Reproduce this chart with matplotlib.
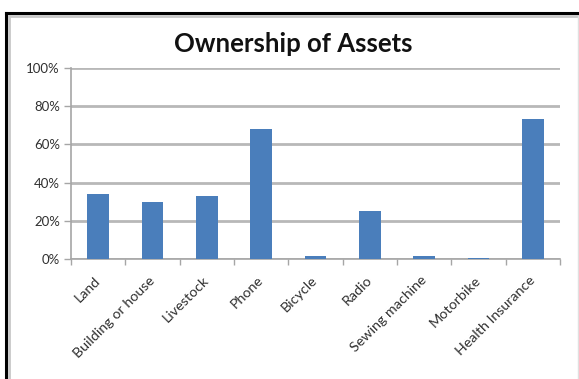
import matplotlib
matplotlib.use("Agg")
import matplotlib.pyplot as plt
from matplotlib.lines import Line2D
from matplotlib.ticker import PercentFormatter, MultipleLocator
from matplotlib.transforms import ScaledTranslation

categories = ["Land", "Building or house", "Livestock", "Phone", "Bicycle",
              "Radio", "Sewing machine", "Motorbike", "Health Insurance"]
ownership = [34.0, 29.7, 33.2, 67.9, 1.5, 25.3, 1.5, 0.6, 73.1]

W, H = 579, 379
fig = plt.figure(figsize=(W / 100, H / 100), dpi=100)
fig.patch.set_facecolor("white")

ax = fig.add_axes([71 / W, (H - 259) / H, (560 - 71) / W, (259 - 68) / H])
x = list(range(len(categories)))
ax.bar(x, ownership, width=0.4, color="#4a7ebb", zorder=3)

ax.set_xlim(-0.5, len(categories) - 0.5)
ax.set_ylim(0, 100)
ax.yaxis.set_major_locator(MultipleLocator(20))
ax.yaxis.set_major_formatter(PercentFormatter(decimals=0))
ax.grid(axis="y", color="#b8b8b8", linewidth=2.0, zorder=0)

for side in ("top", "right"):
    ax.spines[side].set_visible(False)
for side in ("left", "bottom"):
    ax.spines[side].set_color("#a6a6a6")
    ax.spines[side].set_linewidth(1.2)

# Category boundaries carry the tick marks, centres carry the labels
ax.set_xticks([i - 0.5 for i in range(len(categories) + 1)], minor=False)
ax.set_xticklabels([])
ax.set_xticks(x, minor=True)
ax.set_xticklabels(categories, minor=True, rotation=45, ha="right", va="center",
                   rotation_mode="anchor", fontsize=10.3, color="#303030",
                   family="Lato")
shift = ScaledTranslation(6 / 100, 0, fig.dpi_scale_trans)
for lbl in ax.get_xticklabels(minor=True):
    lbl.set_transform(lbl.get_transform() + shift)
ax.tick_params(axis="x", which="major", length=4, color="#a6a6a6", width=1)
ax.tick_params(axis="x", which="minor", length=0, pad=14)
ax.tick_params(axis="y", length=5, color="#a6a6a6", width=1, pad=3,
               labelsize=9.5, labelcolor="#303030")
for lbl in ax.get_yticklabels():
    lbl.set_family("Lato")

fig.text(293 / W, 1 - 44 / H, "Ownership of Assets", ha="center", va="center",
         fontsize=18.5, fontweight="bold", family="Lato", color="#111111")

# Frame around the chart area
fig.add_artist(Line2D([6 / W, 6 / W], [0, 1 - 13 / H], transform=fig.transFigure,
                      color="black", linewidth=2.2))
fig.add_artist(Line2D([6 / W, 1], [1 - 13 / H, 1 - 13 / H], transform=fig.transFigure,
                      color="black", linewidth=2.2))
fig.add_artist(Line2D([9 / W, 9 / W], [0, 1 - 16 / H], transform=fig.transFigure,
                      color="#c8c8c8", linewidth=2))
fig.add_artist(Line2D([9 / W, 1], [1 - 16 / H, 1 - 16 / H], transform=fig.transFigure,
                      color="#c8c8c8", linewidth=2))
fig.add_artist(Line2D([578 / W, 578 / W], [0, 1 - 16 / H], transform=fig.transFigure,
                      color="#e0e0e0", linewidth=1))

fig.savefig("out.png", dpi=100)
